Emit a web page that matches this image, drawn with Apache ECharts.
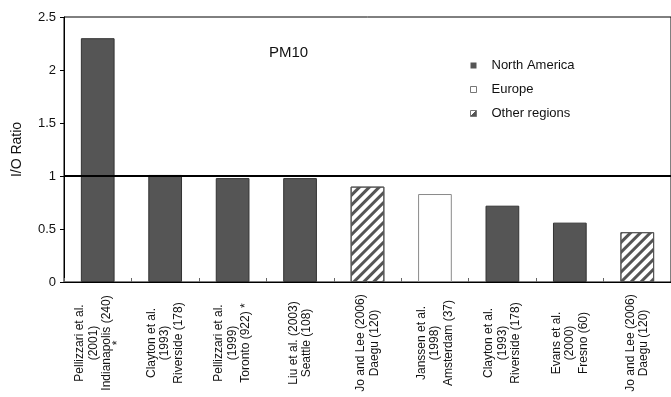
<!DOCTYPE html>
<html>
<head>
<meta charset="utf-8">
<script src="https://cdn.jsdelivr.net/npm/echarts@6/dist/echarts.min.js"></script>
<style>
  html, body { margin: 0; padding: 0; background: #fff; }
  #chart { width: 671px; height: 397px; }
</style>
</head>
<body>
<div id="chart"></div>
<script>
// Indoor/outdoor PM10 ratios by study (study, year, city, number of homes)
const studies = [
  'Pellizzari et al.\n(2001)\nIndianapolis (240)\n*',
  'Clayton et al.\n(1993)\nRiverside (178)',
  'Pellizzari et al.\n(1999)\nToronto (922) *',
  'Liu et al. (2003)\nSeattle (108)',
  'Jo and Lee (2006)\nDaegu (120)',
  'Janssen et al.\n(1998)\nAmsterdam (37)',
  'Clayton et al.\n(1993)\nRiverside (178)',
  'Evans et al.\n(2000)\nFresno (60)',
  'Jo and Lee (2006)\nDaegu (120)'
];
const ioRatio = [2.30, 1.01, 0.98, 0.98, 0.90, 0.83, 0.72, 0.56, 0.47];
const region = ['North America', 'North America', 'North America', 'North America',
  'Other regions', 'Europe', 'North America', 'North America', 'Other regions'];
const regionNames = ['North America', 'Europe', 'Other regions'];
const yTicks = [0, 0.5, 1, 1.5, 2, 2.5];

const FONT = 'Liberation Sans, Arial, sans-serif';

const styles = {
  'North America': { color: '#555555', borderColor: '#333333', borderWidth: 1 },
  'Europe': { color: '#ffffff', borderColor: '#8a8a8a', borderWidth: 1 },
  'Other regions': {
    color: '#ffffff', borderColor: '#555555', borderWidth: 1,
    decal: {
      symbol: 'rect', symbolSize: 1, color: '#555555',
      dashArrayX: [1, 0], dashArrayY: [3, 4], rotation: -Math.PI / 4
    }
  }
};

// Small legend swatches
const legendSwatch = {
  'North America': { color: '#555555', borderWidth: 0, decal: 'none' },
  'Europe': { color: '#ffffff', borderColor: '#777777', borderWidth: 1, decal: 'none' },
  'Other regions': {
    color: {
      type: 'linear', x: 0, y: 0, x2: 1, y2: 1,
      colorStops: [
        { offset: 0, color: '#ffffff' }, { offset: 0.5, color: '#ffffff' },
        { offset: 0.5, color: '#555555' }, { offset: 1, color: '#555555' }
      ]
    },
    borderColor: '#777777', borderWidth: 1, decal: 'none'
  }
};

const series = regionNames.map((name, k) => ({
  name: name,
  type: 'bar',
  barWidth: '50%',
  barGap: '-100%',
  itemStyle: styles[name],
  data: ioRatio.map((v, i) => (region[i] === name ? v : null)),
  markLine: k === regionNames.length - 1 ? {
    silent: true,
    symbol: 'none',
    label: { show: false },
    lineStyle: { color: '#000', width: 2, type: 'solid' },
    data: [{ yAxis: 1 }],
    z: 10
  } : undefined
}));

// A lone footnote star sits tight against the line before it
const labelFormatter = txt => txt.split('\n')
  .map(line => (line === '*' ? '{star|*}' : line))
  .join('\n');

const chart = echarts.init(document.getElementById('chart'), null, { renderer: 'canvas' });
chart.setOption({
  animation: false,
  title: {
    text: 'PM10', left: 264, top: 40,
    textStyle: { fontFamily: FONT, fontSize: 15, fontWeight: 'normal', color: '#111' }
  },
  legend: {
    orient: 'vertical', left: 465, top: 54,
    itemWidth: 6, itemHeight: 6, itemGap: 11,
    icon: 'rect',
    textStyle: { fontFamily: FONT, fontSize: 13, color: '#111', padding: [0, 0, 0, 10] },
    data: regionNames.map(n => ({ name: n, itemStyle: legendSwatch[n] }))
  },
  grid: {
    left: 64, right: 0, top: 17, bottom: 115,
    outerBoundsMode: 'none', containLabel: false,
    show: true, borderColor: '#000', borderWidth: 1, backgroundColor: 'transparent'
  },
  xAxis: {
    type: 'category',
    data: studies,
    axisLine: { lineStyle: { color: '#000', width: 1 } },
    axisTick: { show: true, inside: true, length: 4, lineStyle: { color: '#666' } },
    axisLabel: {
      rotate: 90, align: 'center', margin: 61, interval: 0,
      fontFamily: FONT, fontSize: 12, lineHeight: 13.5, color: '#111',
      formatter: labelFormatter,
      rich: {
        star: { fontFamily: FONT, fontSize: 12, lineHeight: 9, color: '#111' }
      }
    }
  },
  yAxis: {
    type: 'value', min: yTicks[0], max: yTicks[yTicks.length - 1], interval: 0.5,
    name: 'I/O Ratio', nameLocation: 'middle', nameGap: 40,
    nameTextStyle: { fontFamily: FONT, fontSize: 14, color: '#111' },
    axisLine: { show: true, lineStyle: { color: '#000' } },
    axisTick: { show: true, length: 4, lineStyle: { color: '#000' } },
    splitLine: { show: false },
    axisLabel: {
      fontFamily: FONT, fontSize: 13, color: '#111', margin: 8,
      formatter: v => String(v)
    }
  },
  series: series
});
</script>
</body>
</html>
